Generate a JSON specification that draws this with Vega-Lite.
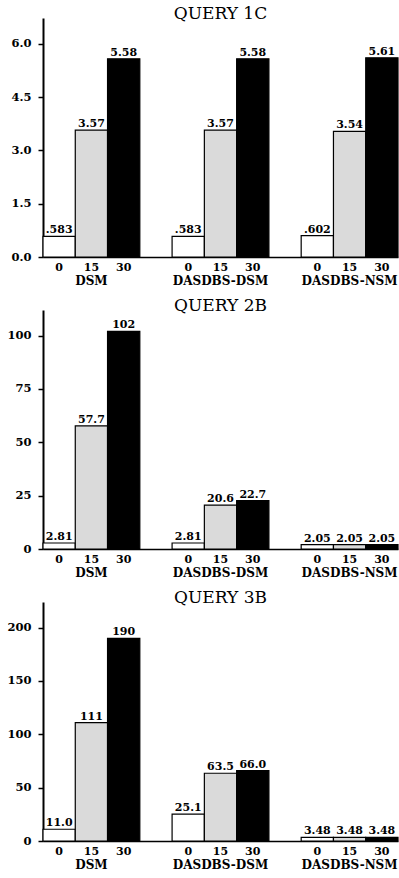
{
  "$schema": "https://vega.github.io/schema/vega-lite/v6.json",
  "background": "white",
  "padding": {"left": 6, "top": 5, "right": 0, "bottom": 0},
  "spacing": 11,
  "datasets": {
    "bars": [
      {"query": "1c", "system": "DSM", "level": "0", "value": 0.583},
      {"query": "1c", "system": "DSM", "level": "15", "value": 3.57},
      {"query": "1c", "system": "DSM", "level": "30", "value": 5.58},
      {"query": "1c", "system": "DASDBS-DSM", "level": "0", "value": 0.583},
      {"query": "1c", "system": "DASDBS-DSM", "level": "15", "value": 3.57},
      {"query": "1c", "system": "DASDBS-DSM", "level": "30", "value": 5.58},
      {"query": "1c", "system": "DASDBS-NSM", "level": "0", "value": 0.602},
      {"query": "1c", "system": "DASDBS-NSM", "level": "15", "value": 3.54},
      {"query": "1c", "system": "DASDBS-NSM", "level": "30", "value": 5.61},
      {"query": "2b", "system": "DSM", "level": "0", "value": 2.81},
      {"query": "2b", "system": "DSM", "level": "15", "value": 57.7},
      {"query": "2b", "system": "DSM", "level": "30", "value": 102},
      {"query": "2b", "system": "DASDBS-DSM", "level": "0", "value": 2.81},
      {"query": "2b", "system": "DASDBS-DSM", "level": "15", "value": 20.6},
      {"query": "2b", "system": "DASDBS-DSM", "level": "30", "value": 22.7},
      {"query": "2b", "system": "DASDBS-NSM", "level": "0", "value": 2.05},
      {"query": "2b", "system": "DASDBS-NSM", "level": "15", "value": 2.05},
      {"query": "2b", "system": "DASDBS-NSM", "level": "30", "value": 2.05},
      {"query": "3b", "system": "DSM", "level": "0", "value": 11.0},
      {"query": "3b", "system": "DSM", "level": "15", "value": 111},
      {"query": "3b", "system": "DSM", "level": "30", "value": 190},
      {"query": "3b", "system": "DASDBS-DSM", "level": "0", "value": 25.1},
      {"query": "3b", "system": "DASDBS-DSM", "level": "15", "value": 63.5},
      {"query": "3b", "system": "DASDBS-DSM", "level": "30", "value": 66.0},
      {"query": "3b", "system": "DASDBS-NSM", "level": "0", "value": 3.48},
      {"query": "3b", "system": "DASDBS-NSM", "level": "15", "value": 3.48},
      {"query": "3b", "system": "DASDBS-NSM", "level": "30", "value": 3.48}
    ]
  },
  "vconcat": [
    {
      "title": {"text": "QUERY 1C"},
      "width": 355,
      "height": 239,
      "data": {"name": "bars"},
      "transform": [
        {"filter": "datum.query === '1c'"},
        {"calculate": "datum.value < 1 ? slice(format(datum.value, '.3r'), 1) : format(datum.value, '.3r')", "as": "label"}
      ],
      "encoding": {
        "x": {"field": "system", "type": "nominal", "title": null,
          "scale": {"domain": ["DSM", "DASDBS-DSM", "DASDBS-NSM"], "paddingInner": 0.25, "paddingOuter": 0},
          "axis": {"ticks": false, "tickSize": 0, "labelPadding": 18, "labelFontSize": 12, "labelAngle": 0, "domainWidth": 1.5}},
        "xOffset": {"field": "level", "type": "nominal", "scale": {"domain": ["0", "15", "30"], "paddingInner": 0, "paddingOuter": 0}},
        "y": {"field": "value", "type": "quantitative", "title": null,
          "scale": {"domain": [0, 6.73], "nice": false, "zero": true},
          "axis": {"values": [0, 1.5, 3, 4.5, 6], "format": ".1f"}}
      },
      "layer": [
        {"mark": {"type": "bar", "stroke": "black", "strokeWidth": 1.2},
          "encoding": {"fill": {"field": "level", "type": "nominal", "legend": null,
            "scale": {"domain": ["0", "15", "30"], "range": ["white", "#dadada", "black"]}}}},
        {"mark": {"type": "text", "baseline": "alphabetic", "dy": -3},
          "encoding": {"text": {"field": "label"}}},
        {"mark": {"type": "text", "baseline": "middle", "dy": 11},
          "encoding": {"y": {"datum": 0, "type": "quantitative", "scale": {"domain": [0, 6.73], "nice": false}}, "text": {"field": "level"}}}
      ]
    },
    {
      "title": {"text": "QUERY 2B"},
      "width": 355,
      "height": 239,
      "data": {"name": "bars"},
      "transform": [
        {"filter": "datum.query === '2b'"},
        {"calculate": "datum.value < 1 ? slice(format(datum.value, '.3r'), 1) : format(datum.value, '.3r')", "as": "label"}
      ],
      "encoding": {
        "x": {"field": "system", "type": "nominal", "title": null,
          "scale": {"domain": ["DSM", "DASDBS-DSM", "DASDBS-NSM"], "paddingInner": 0.25, "paddingOuter": 0},
          "axis": {"ticks": false, "tickSize": 0, "labelPadding": 18, "labelFontSize": 12, "labelAngle": 0, "domainWidth": 1.5}},
        "xOffset": {"field": "level", "type": "nominal", "scale": {"domain": ["0", "15", "30"], "paddingInner": 0, "paddingOuter": 0}},
        "y": {"field": "value", "type": "quantitative", "title": null,
          "scale": {"domain": [0, 112], "nice": false, "zero": true},
          "axis": {"values": [0, 25, 50, 75, 100], "format": "d"}}
      },
      "layer": [
        {"mark": {"type": "bar", "stroke": "black", "strokeWidth": 1.2},
          "encoding": {"fill": {"field": "level", "type": "nominal", "legend": null,
            "scale": {"domain": ["0", "15", "30"], "range": ["white", "#dadada", "black"]}}}},
        {"mark": {"type": "text", "baseline": "alphabetic", "dy": -3},
          "encoding": {"text": {"field": "label"}}},
        {"mark": {"type": "text", "baseline": "middle", "dy": 11},
          "encoding": {"y": {"datum": 0, "type": "quantitative", "scale": {"domain": [0, 112], "nice": false}}, "text": {"field": "level"}}}
      ]
    },
    {
      "title": {"text": "QUERY 3B"},
      "width": 355,
      "height": 239,
      "data": {"name": "bars"},
      "transform": [
        {"filter": "datum.query === '3b'"},
        {"calculate": "datum.value < 1 ? slice(format(datum.value, '.3r'), 1) : format(datum.value, '.3r')", "as": "label"}
      ],
      "encoding": {
        "x": {"field": "system", "type": "nominal", "title": null,
          "scale": {"domain": ["DSM", "DASDBS-DSM", "DASDBS-NSM"], "paddingInner": 0.25, "paddingOuter": 0},
          "axis": {"ticks": false, "tickSize": 0, "labelPadding": 18, "labelFontSize": 12, "labelAngle": 0, "domainWidth": 1.5}},
        "xOffset": {"field": "level", "type": "nominal", "scale": {"domain": ["0", "15", "30"], "paddingInner": 0, "paddingOuter": 0}},
        "y": {"field": "value", "type": "quantitative", "title": null,
          "scale": {"domain": [0, 224], "nice": false, "zero": true},
          "axis": {"values": [0, 50, 100, 150, 200], "format": "d"}}
      },
      "layer": [
        {"mark": {"type": "bar", "stroke": "black", "strokeWidth": 1.2},
          "encoding": {"fill": {"field": "level", "type": "nominal", "legend": null,
            "scale": {"domain": ["0", "15", "30"], "range": ["white", "#dadada", "black"]}}}},
        {"mark": {"type": "text", "baseline": "alphabetic", "dy": -3},
          "encoding": {"text": {"field": "label"}}},
        {"mark": {"type": "text", "baseline": "middle", "dy": 11},
          "encoding": {"y": {"datum": 0, "type": "quantitative", "scale": {"domain": [0, 224], "nice": false}}, "text": {"field": "level"}}}
      ]
    }
  ],
  "config": {
    "font": "DejaVu Serif",
    "view": {"stroke": null},
    "axis": {"labelFont": "DejaVu Serif", "labelFontWeight": "bold", "labelFontSize": 11.5, "labelColor": "black",
      "domainColor": "black", "tickColor": "black", "grid": false},
    "axisY": {"tickSize": 5, "labelPadding": 7, "domainWidth": 2, "tickWidth": 1.5},
    "text": {"font": "DejaVu Serif", "fontWeight": "bold", "fontSize": 11, "color": "black"},
    "title": {"font": "DejaVu Serif", "fontSize": 17, "fontWeight": "normal", "color": "black",
      "anchor": "middle", "frame": "group", "baseline": "alphabetic", "offset": -5}
  }
}
